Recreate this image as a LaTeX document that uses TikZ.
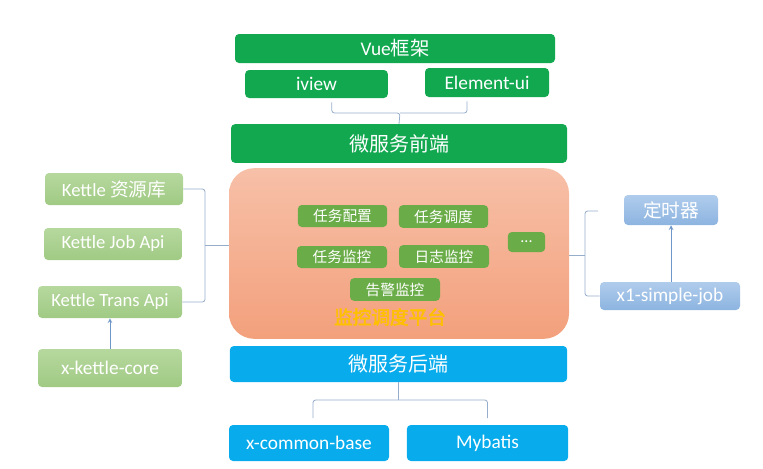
\documentclass[tikz,border=0pt]{standalone}
\usepackage{fontspec}
\setmainfont{Carlito}
\newfontfamily\cjk{Noto Sans CJK SC}
\newfontfamily\cjkbold{Noto Sans CJK SC}[FakeBold=2.5]
\usepackage{xcolor}
\usetikzlibrary{shapes, arrows, positioning, calc}

\definecolor{frontgreen}{RGB}{18,168,80}
\definecolor{modgreen}{RGB}{106,172,72}
\definecolor{plattop}{RGB}{247,192,168}
\definecolor{platbot}{RGB}{243,160,124}
\definecolor{backblue}{RGB}{8,172,236}
\definecolor{kettop}{RGB}{182,216,158}
\definecolor{ketbot}{RGB}{160,202,132}
\definecolor{timtop}{RGB}{176,204,236}
\definecolor{timbot}{RGB}{140,180,224}
\definecolor{braceline}{RGB}{150,174,204}
\definecolor{arrowline}{RGB}{110,150,200}
\definecolor{titleyellow}{RGB}{255,192,0}

\begin{document}
\begin{tikzpicture}[
  x=0.75pt, y=-0.75pt,
  >=stealth,
  layer/.style={rectangle, rounded corners=3pt, inner sep=0pt, text=white, align=center},
  front/.style={layer, fill=frontgreen, font=\fontsize{14.5}{16}\selectfont},
  module/.style={layer, fill=modgreen, font=\fontsize{11}{13}\selectfont\cjk},
  back/.style={layer, fill=backblue, font=\fontsize{14.5}{16}\selectfont},
  kettle/.style={layer, top color=kettop, bottom color=ketbot, font=\fontsize{14}{16}\selectfont},
  timer/.style={layer, top color=timtop, bottom color=timbot, font=\fontsize{14.5}{16}\selectfont},
  brace/.style={draw=braceline, line width=0.6pt, rounded corners=2pt},
  link/.style={->, draw=arrowline, line width=0.6pt},
]
  \useasboundingbox (0,0) rectangle (763,468);

  % front end
  \node[front, minimum width=240pt, minimum height=21.75pt] (vue) at (395,48.5) {Vue{\cjk 框架}};
  \node[front, minimum width=107pt, minimum height=21pt] (iview) at (316.5,84) {iview};
  \node[front, minimum width=93pt, minimum height=21.75pt] (elem) at (487,82.5) {Element-ui};
  \node[front, minimum width=252pt, minimum height=29pt, font=\fontsize{15}{17}\selectfont\cjk] (web) at (399,143.5) {微服务前端};

  % platform
  \node[rectangle, rounded corners=19pt, minimum width=255pt, minimum height=128pt, inner sep=0pt,
        top color=plattop, bottom color=platbot] (plat) at (399,253.5) {};
  \node[module, minimum width=67pt, minimum height=16.5pt] (cfg) at (342.5,216) {任务配置};
  \node[module, minimum width=67pt, minimum height=17pt] (sched) at (443.5,216.5) {任务调度};
  \node[module, minimum width=67.5pt, minimum height=16.5pt] (mon) at (342,257) {任务监控};
  \node[module, minimum width=67.5pt, minimum height=17pt] (log) at (444,256.5) {日志监控};
  \node[module, minimum width=67.5pt, minimum height=17pt] (alarm) at (395,289.5) {告警监控};
  \node[module, minimum width=28pt, minimum height=15pt, font=\fontsize{12}{14}\selectfont] (more) at (526.5,242) {...};
  \node[text=titleyellow, font=\fontsize{14}{16}\selectfont\cjkbold] (title) at (390,317) {监控调度平台};

  % back end
  \node[back, minimum width=253pt, minimum height=27pt, font=\fontsize{15}{17}\selectfont\cjk] (srv) at (398.5,364) {微服务后端};
  \node[back, minimum width=120pt, minimum height=27pt] (common) at (309,443) {x-common-base};
  \node[back, minimum width=121pt, minimum height=27pt] (mybatis) at (487.5,443) {Mybatis};

  % kettle
  \node[kettle, minimum width=103.5pt, minimum height=24pt] (repo) at (114,189) {Kettle {\cjk 资源库}};
  \node[kettle, minimum width=103.5pt, minimum height=24pt] (jobapi) at (113,244) {Kettle Job Api};
  \node[kettle, minimum width=108pt, minimum height=24pt] (transapi) at (110,302) {Kettle Trans Api};
  \node[kettle, minimum width=108pt, minimum height=28.5pt, font=\fontsize{14.5}{16}\selectfont] (core) at (110,368) {x-kettle-core};

  % timer
  \node[timer, minimum width=70.5pt, minimum height=22.5pt, font=\fontsize{14}{16}\selectfont\cjk] (clock) at (671,210) {定时器};
  \node[timer, minimum width=105pt, minimum height=21pt] (simple) at (670,296) {x1-simple-job};

  % braces
  \coordinate (tb) at (400,113);
  \draw[brace] ([xshift=11.5pt,yshift=-3pt]iview.south) |- (tb) -- (web.north);
  \draw[brace] ([xshift=-15pt,yshift=-3pt]elem.south) |- (tb);

  \coordinate (lb) at (205,245);
  \draw[brace] (repo.east) -| (lb) |- (transapi.east);
  \draw[brace] (lb) -- (lb -| plat.west);

  \coordinate (rb) at (585,255);
  \coordinate (rt) at (598,211);
  \draw[brace] (rb -| plat.east) -- (rb);
  \draw[brace] (rt) -| (rb) |- (simple.west);

  \coordinate (bb) at (srv.south |- 0,400);
  \draw[brace] (srv.south) -- (bb);
  \draw[brace] ([xshift=3pt,yshift=5pt]common.north) |- (bb);
  \draw[brace] ([yshift=5pt]mybatis.north) |- (bb);

  % arrows
  \draw[link] (core) -- (transapi);
  \draw[link] (simple.north -| clock.south) -- (clock.south);
\end{tikzpicture}
\end{document}
